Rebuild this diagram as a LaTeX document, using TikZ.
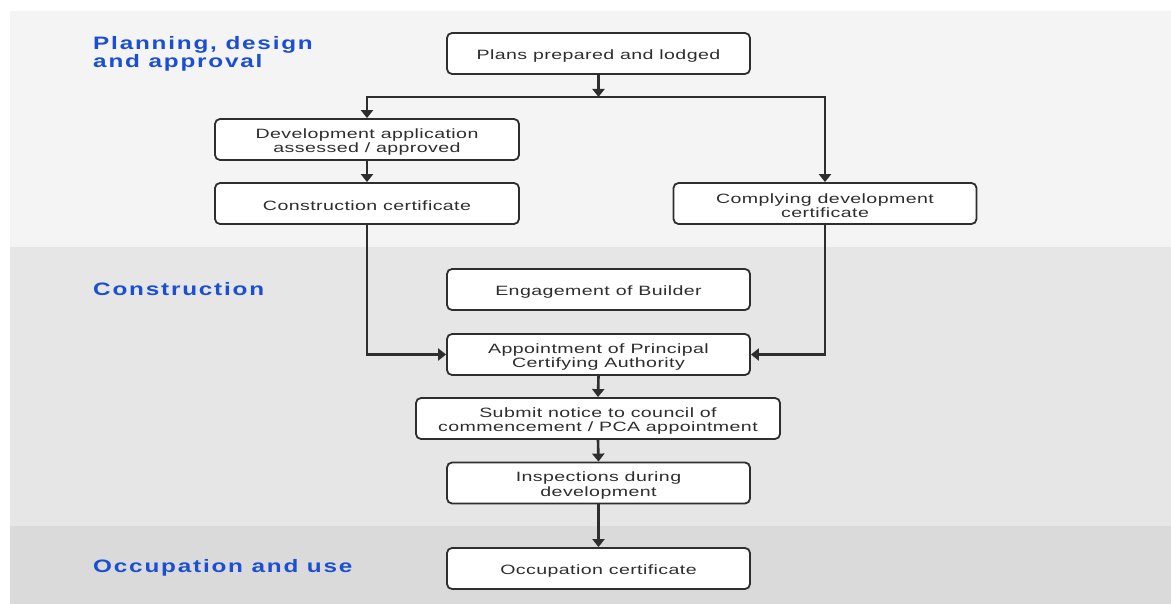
\documentclass[tikz,border=0pt]{standalone}
\usepackage{fontspec}
\setmainfont{Liberation Sans}
\newfontfamily\boxfont[FakeStretch=1.45,LetterSpace=3]{Liberation Sans}
\newfontfamily\headfont[FakeStretch=1.35,LetterSpace=10]{Liberation Sans}
\usetikzlibrary{arrows.meta}
\newcommand{\topstrut}{\rule{0pt}{14.5pt}}
\definecolor{panelA}{HTML}{F4F4F4}
\definecolor{panelB}{HTML}{E6E6E6}
\definecolor{panelC}{HTML}{DADADA}
\definecolor{ink}{HTML}{2E2E2E}
\definecolor{headblue}{HTML}{1B4FD3}
\tikzset{
  box/.style={draw=ink, line width=1.8pt, rounded corners=5pt, fill=white,
    minimum height=41pt, align=center, inner sep=0pt, text=ink,
    font=\boxfont\fontsize{13.5}{14.5}\selectfont},
  head/.style={anchor=west, align=left, text=headblue, inner sep=0pt,
    font=\headfont\bfseries\fontsize{18}{18}\selectfont},
  arr/.style={draw=ink, line width=2.6pt, -{Triangle[width=12pt,length=8pt]}},
  ln/.style={draw=ink, line width=2.6pt}
}
\begin{document}
\begin{tikzpicture}[x=1pt,y=-1pt]
\useasboundingbox (0,0) rectangle (1171,604);
\fill[white] (0,0) rectangle (1171,604);
\fill[panelA] (10,11) rectangle (1171,247);
\fill[panelB] (10,247) rectangle (1171,526);
\fill[panelC] (10,526) rectangle (1171,604);

\node[head] (h1) at (93,54) {Planning, design\\and approval};
\node[head] (h2) at (93,289) {Construction};
\node[head] (h3) at (93,568) {Occupation and use};

\node[box, minimum width=303pt] (plans) at (598.5,53.5) {\topstrut Plans prepared and lodged};
\node[box, minimum width=304pt] (da) at (367,139.5) {\topstrut Development application\\assessed / approved};
\node[box, minimum width=304pt] (cc) at (367,203.5) {\topstrut Construction certificate};
\node[box, minimum width=303pt] (cdc) at (825,203.5) {\topstrut Complying development\\certificate};
\node[box, minimum width=303pt] (eng) at (598.5,289.5) {\topstrut Engagement of Builder};
\node[box, minimum width=303pt] (pca) at (598.5,354.5) {\topstrut Appointment of Principal\\Certifying Authority};
\node[box, minimum width=364pt] (sub) at (598,418.5) {\topstrut Submit notice to council of\\commencement / PCA appointment};
\node[box, minimum width=303pt] (insp) at (598.5,483) {\topstrut Inspections during\\development};
\node[box, minimum width=303pt] (occ) at (598.5,568.5) {\topstrut Occupation certificate};

\coordinate (split) at (598.5,97);
\draw[arr] (plans.south) -- (split);
\draw[arr] (split) -| (da.north);
\draw[arr] (split) -| (cdc.north);
\draw[arr] (da.south) -- (cc.north);
\draw[arr] (cc.south) |- (pca.west);
\draw[arr] (cdc.south) |- (pca.east);
\draw[arr] (pca.south) -- (sub.north);
\draw[arr] (sub.south) -- (insp.north);
\draw[arr] (insp.south) -- (occ.north);
\end{tikzpicture}
\end{document}
